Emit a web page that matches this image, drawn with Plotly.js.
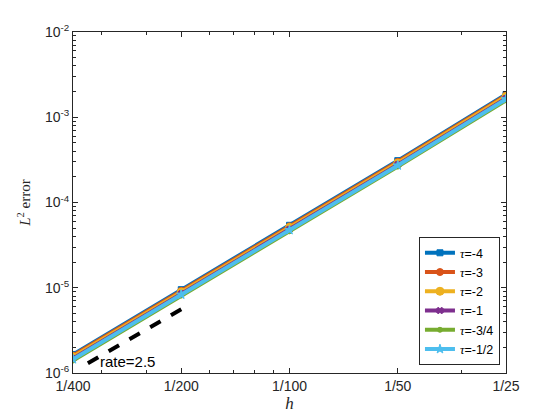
<!DOCTYPE html>
<html>
<head>
<meta charset="utf-8">
<script src="https://cdn.plot.ly/plotly-3.0.1.min.js"></script>
<style>html,body{margin:0;padding:0;background:#fff;}#chart{width:560px;height:420px;}</style>
</head>
<body>
<div id="chart"></div>
<script>
const h = [1/400, 1/200, 1/100, 1/50, 1/25];
const hTickText = ['1/400', '1/200', '1/100', '1/50', '1/25'];
const seriesNames = ['-4', '-3', '-2', '-1', '-3/4', '-1/2'];
const errTau4  = [1.65e-6, 9.5e-6, 5.4e-5, 3.10e-4, 1.85e-3];
const errTau3  = [1.60e-6, 9.2e-6, 5.25e-5, 3.00e-4, 1.80e-3];
const errTau2  = [1.55e-6, 8.9e-6, 5.1e-5, 2.90e-4, 1.75e-3];
const errTau1  = [1.48e-6, 8.5e-6, 4.85e-5, 2.78e-4, 1.66e-3];
const errTau34 = [1.40e-6, 8.1e-6, 4.6e-5, 2.64e-4, 1.58e-3];
const errTau12 = [1.45e-6, 8.3e-6, 4.75e-5, 2.72e-4, 1.63e-3];
const rateH = [0.00275, 0.005];
const rateErr = [1.3e-6, 5.6e-6];
const yTickVals = [1e-6, 1e-5, 1e-4, 1e-3, 1e-2];
const yTickText = ['10<sup>-6</sup>', '10<sup>-5</sup>', '10<sup>-4</sup>', '10<sup>-3</sup>', '10<sup>-2</sup>'];

const colors = ['#0072BD', '#D95319', '#EDB120', '#7E2F8E', '#77AC30', '#4DBEEE'];
const symbols = ['square', 'circle', 'circle', 'x', 'circle', 'star'];
const msizes = [6, 7, 8, 6, 5, 7];
const allErr = [errTau4, errTau3, errTau2, errTau1, errTau34, errTau12];

const traces = allErr.map((e, i) => ({
  x: h, y: e, type: 'scatter', mode: 'lines+markers',
  name: "<span style=\"font-family:'Liberation Serif';font-style:italic\">τ</span>=" + seriesNames[i],
  line: {color: colors[i], width: 4},
  marker: {color: colors[i], symbol: symbols[i], size: msizes[i], line: {color: colors[i], width: 1}}
}));
traces.push({
  x: rateH, y: rateErr, type: 'scatter', mode: 'lines', showlegend: false,
  line: {color: '#000', width: 4, dash: 'dash'}
});

const minorX = [];
for (let k = -3; k <= -2; k++) for (let m = 2; m <= 9; m++) { const v = m * Math.pow(10, k); if (v > 0.0025 && v < 0.04) minorX.push(v); }
const minorY = [];
for (let k = -6; k <= -3; k++) for (let m = 2; m <= 9; m++) minorY.push(m * Math.pow(10, k));

const axisCommon = {
  type: 'log', showgrid: false, zeroline: false, showline: true, linecolor: '#262626', linewidth: 1,
  mirror: 'ticks', ticks: 'inside', ticklen: 5, tickcolor: '#262626',
  tickfont: {family: 'Liberation Sans, Arial, sans-serif', size: 14, color: '#262626'}
};

const layout = {
  width: 560, height: 420,
  margin: {l: 73, r: 54, t: 32, b: 47},
  paper_bgcolor: '#fff', plot_bgcolor: '#fff',
  showlegend: true,
  xaxis: Object.assign({}, axisCommon, {
    range: [Math.log10(1/400), Math.log10(1/25)],
    tickmode: 'array', tickvals: h, ticktext: hTickText,
    minor: {tickmode: 'array', tickvals: minorX, ticks: 'inside', ticklen: 3, tickcolor: '#262626'},
    title: {text: '<i>h</i>', font: {family: 'Liberation Serif, Times New Roman, serif', size: 17, color: '#262626'}, standoff: 4}
  }),
  yaxis: Object.assign({}, axisCommon, {
    range: [-6, -2],
    tickmode: 'array', tickvals: yTickVals, ticktext: yTickText,
    minor: {tickmode: 'array', tickvals: minorY, ticks: 'inside', ticklen: 3, tickcolor: '#262626'},
    title: {text: '<i>L</i><sup>2</sup> error', font: {family: 'Liberation Serif, Times New Roman, serif', size: 15, color: '#262626'}, standoff: 10}
  }),
  legend: {
    x: 0.799, y: 0.023, xanchor: 'left', yanchor: 'bottom',
    bgcolor: '#fff', bordercolor: '#262626', borderwidth: 1,
    font: {family: 'Liberation Sans, Arial, sans-serif', size: 12.5, color: '#000'},
    itemwidth: 30, tracegroupgap: 0
  },
  annotations: [{
    x: Math.log10(0.00293), y: Math.log10(1.35e-6), xref: 'x', yref: 'y',
    text: 'rate=2.5', showarrow: false, xanchor: 'left', yanchor: 'middle',
    font: {family: 'Liberation Sans, Arial, sans-serif', size: 15, color: '#000'}
  }]
};

Plotly.newPlot('chart', traces, layout, {displayModeBar: false, staticPlot: true});
</script>
</body>
</html>
